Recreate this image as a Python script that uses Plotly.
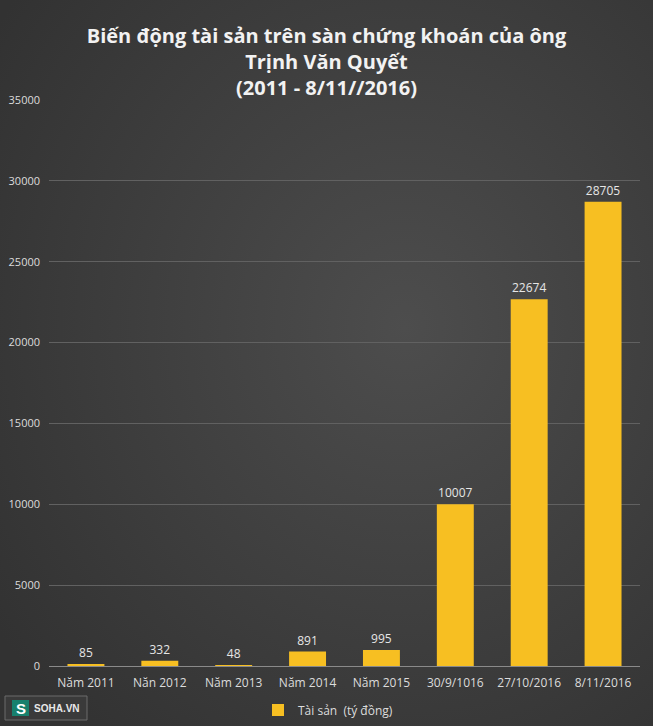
import base64
import plotly.graph_objects as go

categories = ['Năm 2011', 'Năn 2012', 'Năm 2013', 'Năm 2014', 'Năm 2015',
              '30/9/1016', '27/10/2016', '8/11/2016']
tai_san = [85, 332, 48, 891, 995, 10007, 22674, 28705]
y_ticks = [0, 5000, 10000, 15000, 20000, 25000, 30000, 35000]
y_tick_labels = [str(v) for v in y_ticks]

W, H = 653, 726
L, R, T, B = 49, 13, 100, 60

# soft grey gradient behind everything
svg = ('<svg xmlns="http://www.w3.org/2000/svg" width="653" height="726">'
       '<defs><radialGradient id="g" cx="0.62" cy="0.45" r="0.75">'
       '<stop offset="0" stop-color="#4d4d4d"/><stop offset="1" stop-color="#323232"/>'
       '</radialGradient></defs><rect width="653" height="726" fill="url(#g)"/></svg>')
bg = 'data:image/svg+xml;base64,' + base64.b64encode(svg.encode()).decode()

pw, ph = W - L - R, H - T - B


def px(x):
    return (x - L) / pw


def py(y):
    return (T + ph - y) / ph


fig = go.Figure()
fig.add_trace(go.Bar(
    x=categories, y=tai_san, name='Tài sản  (tý đồng)',
    marker=dict(color='#f7bf22', line=dict(width=0)),
    width=0.5,
    text=tai_san, textposition='outside', cliponaxis=False,
    textfont=dict(family='Open Sans', size=12, color='#e6e6e6'),
))

fig.update_layout(
    width=W, height=H,
    margin=dict(l=L, r=R, t=T, b=B, autoexpand=False),
    paper_bgcolor='#3e3e3e', plot_bgcolor='rgba(0,0,0,0)',
    title=dict(
        text='Biến động tài sản trên sàn chứng khoán của ông<br>Trịnh Văn Quyết<br>(2011 - 8/11//2016)',
        x=0.5, xanchor='center', xref='container', y=1 - 43 / H, yanchor='top',
        font=dict(family='Open Sans', size=20, color='#f2f2f2', weight='bold'),
    ),
    yaxis=dict(range=[0, 35000], tickvals=y_ticks, ticktext=y_tick_labels,
               showgrid=True, automargin=False,
               gridcolor='#616161', gridwidth=1, zeroline=False,
               tickfont=dict(family='Open Sans', size=11, color='#dcdcdc'),
               ticks='', ticklabelstandoff=8),
    xaxis=dict(showline=True, linecolor='#8a8a8a', linewidth=1, automargin=False,
               tickfont=dict(family='Open Sans', size=12, color='#dcdcdc'),
               ticks='', ticklabelstandoff=6),
    showlegend=True,
    legend=dict(orientation='h', x=px(258), xanchor='left', y=py(710), yanchor='middle',
                font=dict(family='Open Sans', size=12, color='#dcdcdc'),
                bgcolor='rgba(0,0,0,0)', itemwidth=30),
    images=[dict(source=bg, xref='paper', yref='paper',
                 x=-L / pw, y=1 + T / ph, sizex=W / pw, sizey=H / ph,
                 xanchor='left', yanchor='top', sizing='stretch', layer='below')],
)

# SOHA.VN badge
fig.add_shape(type='rect', xref='paper', yref='paper',
              x0=px(5), x1=px(87), y0=py(720), y1=py(696),
              line=dict(color='#6a6a6a', width=1), fillcolor='#3a3a3a')
fig.add_shape(type='rect', xref='paper', yref='paper',
              x0=px(12), x1=px(29), y0=py(716), y1=py(700),
              line=dict(width=0), fillcolor='#17806d')
fig.add_annotation(xref='paper', yref='paper', x=px(20.5), y=py(708.5),
                   xanchor='center', yanchor='middle',
                   text='<b>S</b>', showarrow=False,
                   font=dict(family='Liberation Sans', size=15, color='white'))
fig.add_annotation(xref='paper', yref='paper', x=px(32), y=py(708),
                   xanchor='left', yanchor='middle', text='<b>SOHA.VN</b>', showarrow=False,
                   font=dict(family='Liberation Sans', size=10, color='#e8e8e8'))

# page has a default body margin; drop it so the chart sits at 0,0
fig.write_html("out.html", config={'displayModeBar': False},
               post_script="document.body.style.margin='0';")
